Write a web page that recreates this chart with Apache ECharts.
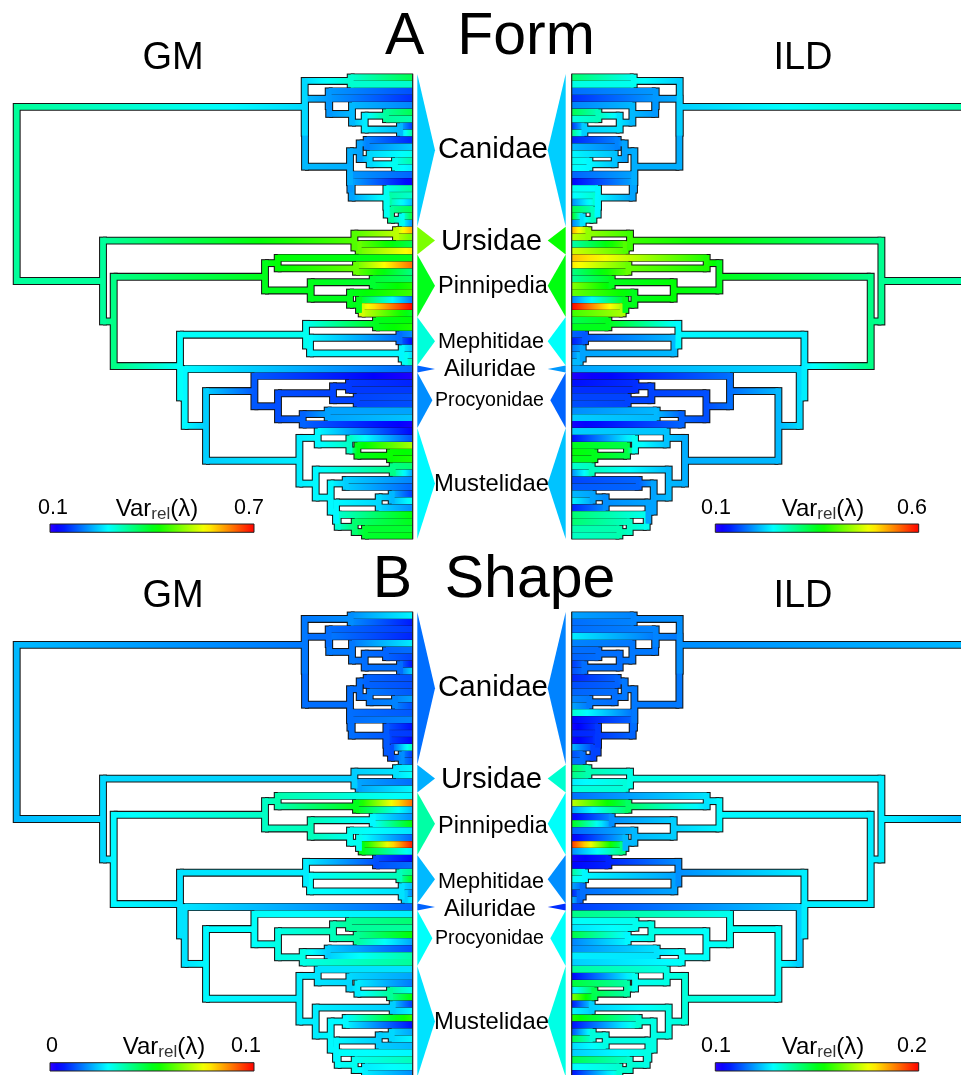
<!DOCTYPE html>
<html><head><meta charset="utf-8">
<style>html,body{margin:0;padding:0;background:#fff;overflow:hidden}#c{width:961px;height:1075px}</style>
<script src="https://cdn.jsdelivr.net/npm/echarts@6/dist/echarts.min.js"></script>
</head><body><div id="c"></div>
<script>
// Tree: [distance from tips, child, child]; a plain number is a leaf (its row).
const ursidae=[58.3,[16.7,22,23],[54,24,25]];
const pinnipedia=[147.7,[135,26,[56.7,27,28]],[102,[40,29,30],[62.7,31,[53.7,32,[51,33,34]]]]];
const mephitidae=[106.7,[36.7,35,36],[102.7,[13.3,37,38],[11,39,[8,40,41]]]];
const procyonidae=[158.3,43,[134.7,[79.7,[63.7,44,45],[56,46,47]],[110,[85,48,49],50]]];
const mustelidae=[113.3,[95,51,[63.3,52,[55.3,53,[22.7,54,55]]]],[97,[20,56,57],[82,[67,58,59],[76.7,[34,[21,60,61],62],[75,63,[58,64,[47.7,65,66]]]]]]];
const canidae=[108,[62,0,1],[107.7,[84,2,[83.5,3,[60.7,4,[48,[26.7,5,6],[12.7,7,8]]]]],[62.7,[53,[46,9,10],[43,11,[17.7,12,13]]],[62.3,14,[61,15,[26.3,16,[26,[24,17,18],[21.7,19,[11,20,21]]]]]]]]];
const arctoidea=[309.7,ursidae,[299,pinnipedia,[232.7,mephitidae,[228,42,[206.7,procyonidae,mustelidae]]]]];
const treeRoot=[396,canidae,arctoidea];

// Values as percent of each panel's colour bar.
const formGMTips=[45,33,12,9,17,45,36,10,38,8,24,30,37,27,14,4,38,33,22,45,47,18,84,62,45,78,50,90,40,43,55,58,16,100,48,52,55,18,5,22,25,36,14,2,8,10,12,12,20,23,3,5,12,68,52,55,42,20,17,14,10,30,18,52,50,48,50];
const formGMNodes=[38,25,33,22,19,19,22,27,38,22,21,20,17,25,30,19,20,30,30,37,38,30,38,60,70,62,40,50,52,62,50,48,50,50,72,29,30,50,28,15,28,30,28,24,13,12,11,10,11,14,20,27,28,34,50,53,28,40,28,24,28,25,22,33,42,48];
const formILDTips=[42,31,15,9,17,45,31,10,40,8,22,28,30,29,14,5,30,28,18,45,50,17,84,70,36,72,82,78,40,38,65,62,17,100,58,45,50,14,7,16,18,22,20,2,6,9,11,12,18,24,3,24,6,50,52,50,33,18,11,13,22,28,8,42,42,36,34];
const formILDNodes=[37,24,30,21,19,19,22,26,35,24,21,20,17,23,28,20,20,28,28,33,35,26,39,58,66,60,40,50,55,62,52,50,50,50,68,27,28,50,22,13,20,22,25,22,15,12,11,9,11,14,22,21,23,30,46,50,22,35,20,14,20,18,20,30,34,36];
const shapeGMTips=[28,7,10,8,27,15,11,6,25,12,12,13,20,12,13,17,6,10,5,35,10,12,28,29,15,28,28,90,22,18,52,26,14,98,27,5,15,40,52,22,17,28,14,27,42,38,52,20,12,37,38,26,20,16,30,52,10,28,57,6,20,28,22,28,35,30,18];
const shapeGMNodes=[22,16,18,15,15,16,16,15,14,15,15,15,14,16,17,15,15,13,13,11,12,18,25,24,26,20,28,34,36,50,35,28,30,30,50,26,27,12,29,35,26,24,26,28,29,31,35,38,38,31,24,27,26,25,27,38,27,24,28,28,28,24,25,29,30,27];
const shapeILDTips=[20,15,15,27,17,15,14,10,12,8,12,14,17,20,33,5,3,8,3,22,12,15,45,40,27,32,15,70,20,4,50,14,4,95,18,3,5,38,30,20,8,22,10,40,29,26,46,17,18,27,24,38,5,47,26,65,7,28,55,6,12,46,25,24,45,28,6];
const shapeILDNodes=[22,18,17,16,17,16,16,15,15,15,16,16,14,15,16,15,14,10,11,9,11,15,27,31,36,32,27,28,26,43,24,18,22,22,40,27,18,8,20,28,15,14,24,29,30,29,31,30,28,29,26,32,31,30,37,45,31,24,31,33,31,31,32,31,33,33];

// Clades: name, first row, last row; arrow colours per panel as percent of bar.
const cladeNames=['Canidae','Ursidae','Pinnipedia','Mephitidae','Ailuridae','Procyonidae','Mustelidae'];
const cladeFirst=[0,22,26,35,42,43,51];
const cladeLast=[21,25,34,41,42,50,66];
const cladeFont=[29.5,29.3,23.5,21.7,23.6,19.6,23.8];
const cladeCentre=[493,491.5,493,491,490,489.5,491.5];
const cladeApex=[22.3,22.3,22.3,22.3,22.3,19.7,22.3];
const cladeDropForm=[-1,1,1,1,1,0,1];
const cladeDropShape=[-1,1,3,3,3,0,1];
const formGMArrows=[24,64,50,32,14,18,28];
const formILDArrows=[24,53,51,29,19,14,23];
const shapeGMArrows=[15,21,37,22,14,29,26];
const shapeILDArrows=[17,33,29,18,9,29,31];

const panelTitles=['A  Form','B  Shape'];
const methodNames=['GM','ILD'];
const tickLow=['0.1','0.1','0','0.1'];
const tickHigh=['0.7','0.6','0.1','0.2'];
const varLabelCentre=[157,823,164,823];
const tickLowCentre=[53,716,52,716];
const tickHighCentre=[249,912,246,912];

const panels=[
 {tips:formGMTips,nodes:formGMNodes,arrows:formGMArrows,side:0,top:77.5,drop:cladeDropForm},
 {tips:formILDTips,nodes:formILDNodes,arrows:formILDArrows,side:1,top:77.5,drop:cladeDropForm},
 {tips:shapeGMTips,nodes:shapeGMNodes,arrows:shapeGMArrows,side:0,top:615.5,drop:cladeDropShape},
 {tips:shapeILDTips,nodes:shapeILDNodes,arrows:shapeILDArrows,side:1,top:615.5,drop:cladeDropShape}];

const FONT='"Liberation Sans",Arial,sans-serif';
const OUTER=3.95, INNER=2.9, LEAF=3.35;
function colour(p){ // rainbow bar: hue 252 (p=0) to 0 (p=100)
  const h=252*(1-Math.min(100,Math.max(0,p))/100)/60, i=Math.floor(h), f=h-i;
  const c=[[1,f,0],[1-f,1,0],[0,1,f],[0,1-f,1],[f,0,1]][Math.min(i,4)];
  return 'rgb('+c.map(v=>Math.round(v*255)).join(',')+')';
}
function segments(p){
  const out=[]; let n=0;
  (function walk(t){
    if(typeof t==='number') return {d:0,row:t,v:p.tips[t]};
    const v=p.nodes[n++];
    const a=walk(t[1]), b=walk(t[2]);
    const row=(a.row+b.row)/2;
    [a,b].forEach(c=>out.push([0,t[0],c.d,c.row,v,c.v]));
    out.push([1,t[0],a.row,b.row,v,v]);
    return {d:t[0],row,v};
  })(treeRoot);
  return out;
}
function gradient(x0,x1,v0,v1){
  const stops=[];
  for(let i=0;i<=8;i++) stops.push({offset:i/8,color:colour(v0+(v1-v0)*i/8)});
  return new echarts.graphic.LinearGradient(x0,0,x1,0,stops,true);
}
function renderer(isFill){
  return function(params,api){
    const kind=api.value(0);
    if(kind===0){
      const half=isFill?(api.value(2)===0?LEAF:INNER):OUTER;
      const A=api.coord([api.value(1),api.value(3)]), B=api.coord([api.value(2),api.value(3)]);
      const x0=Math.min(A[0],B[0]), x1=Math.max(A[0],B[0]);
      const fill=isFill?gradient(A[0],B[0],api.value(4),api.value(5)):'#161616';
      return {type:'rect',shape:{x:x0,y:A[1]-half,width:x1-x0,height:half*2},style:{fill}};
    }
    const half=isFill?INNER:OUTER;
    const A=api.coord([api.value(1),api.value(2)]), B=api.coord([api.value(1),api.value(3)]);
    return {type:'rect',shape:{x:A[0]-half,y:A[1]-half,width:half*2,height:B[1]-A[1]+half*2},
      style:{fill:isFill?colour(api.value(4)):'#161616'}};
  };
}
const grids=[],xAxes=[],yAxes=[],series=[];
panels.forEach((p,i)=>{
  const left=p.side===0;
  grids.push({left:left?0:548,top:p.top,width:left?435:413,height:458,containLabel:false});
  xAxes.push({type:'value',gridIndex:i,show:false,inverse:left,min:left?-22.3:-23.7,max:left?412.7:389.3});
  yAxes.push({type:'value',gridIndex:i,show:false,inverse:true,min:0,max:66});
  const segs=segments(p);
  const base={type:'custom',xAxisIndex:i,yAxisIndex:i,silent:true,animation:false,progressive:0,clip:false,
    encode:{x:1,y:3},data:segs};
  series.push(Object.assign({},base,{z:2,renderItem:renderer(false)}));
  series.push(Object.assign({},base,{z:3,renderItem:renderer(true)}));
  // closing line at the tips
  series.push({type:'custom',xAxisIndex:i,yAxisIndex:i,silent:true,animation:false,clip:false,z:4,
    encode:{x:0,y:1},data:[[0,0,66]],renderItem:(q,api)=>{
      const A=api.coord([api.value(0),api.value(1)]),B=api.coord([api.value(0),api.value(2)]);
      return {type:'rect',shape:{x:A[0]-0.6,y:A[1]-3.8,width:1.2,height:B[1]-A[1]+7.6},style:{fill:'#222'}};
    }});
  // clade arrows
  const gapD=left?4.6:6;
  series.push({type:'custom',xAxisIndex:i,yAxisIndex:i,silent:true,animation:false,clip:false,z:3,
    encode:{x:0,y:1},
    data:cladeNames.map((n,k)=>[left?cladeApex[k]:cladeApex[k]+1.7,cladeFirst[k],cladeLast[k],p.arrows[k]]),
    renderItem:(q,api)=>{
      const r0=api.value(1)-0.5,r1=api.value(2)+0.5;
      const a=api.coord([-gapD,r0]),b=api.coord([-gapD,r1]),c=api.coord([-api.value(0),(r0+r1)/2]);
      return {type:'polygon',shape:{points:[a,c,b]},style:{fill:colour(api.value(3))}};
    }});
  // clade names, placed from the left panel's row scale
  if(left){
    series.push({type:'custom',xAxisIndex:i,yAxisIndex:i,silent:true,animation:false,clip:false,z:5,
      encode:{x:0,y:1},
      data:cladeNames.map((n,k)=>[412.7-cladeCentre[k],(cladeFirst[k]+cladeLast[k])/2,k]),
      renderItem:(q,api)=>{
        const k=api.value(2),P=api.coord([api.value(0),api.value(1)]);
        return {type:'text',style:{text:cladeNames[k],x:P[0],y:P[1]+p.drop[k],align:'center',verticalAlign:'middle',
          font:cladeFont[k]+'px '+FONT,fill:'#000'}};
      }});
  }
});
const graphics=[];
function addText(text,x,y,size){
  graphics.push({type:'text',silent:true,style:{text,x,y,align:'center',verticalAlign:'middle',font:size+'px '+FONT,fill:'#000'}});
}
panelTitles.forEach((t,i)=>{
  addText(t,490+(i?4:0),i?581:38,59);
  addText(methodNames[0],173,i?597:59,38);
  addText(methodNames[1],803,i?597:59,38);
});
panels.forEach((p,i)=>{
  const left=p.side===0, yBar=i<2?524:1062.7, yText=i<2?507:1045;
  addText(tickLow[i],tickLowCentre[i],yText+1,21.5);
  addText(tickHigh[i],tickHighCentre[i],yText+1,21.5);
  graphics.push({type:'text',silent:true,style:{
    text:'{a|Var}{b|rel}{a|(λ)}',x:varLabelCentre[i],y:yText+3,align:'center',verticalAlign:'middle',fill:'#000',
    rich:{a:{font:'24px '+FONT,fill:'#000',verticalAlign:'top'},b:{font:'17px '+FONT,fill:'#333',padding:[9,0,0,0]}}}});
  const x=left?50:715.3, w=left?204:203.4, stops=[];
  for(let s=0;s<=28;s++) stops.push({offset:s/28,color:colour(s/28*100)});
  graphics.push({type:'rect',silent:true,shape:{x:x,y:yBar,width:w,height:8.3},
    style:{fill:new echarts.graphic.LinearGradient(0,0,1,0,stops),stroke:'#222',lineWidth:1}});
});
const chart=echarts.init(document.getElementById('c'),null,{width:961,height:1075});
chart.setOption({animation:false,backgroundColor:'#fff',grid:grids,xAxis:xAxes,yAxis:yAxes,series,graphic:graphics,tooltip:{show:false}});
</script></body></html>
